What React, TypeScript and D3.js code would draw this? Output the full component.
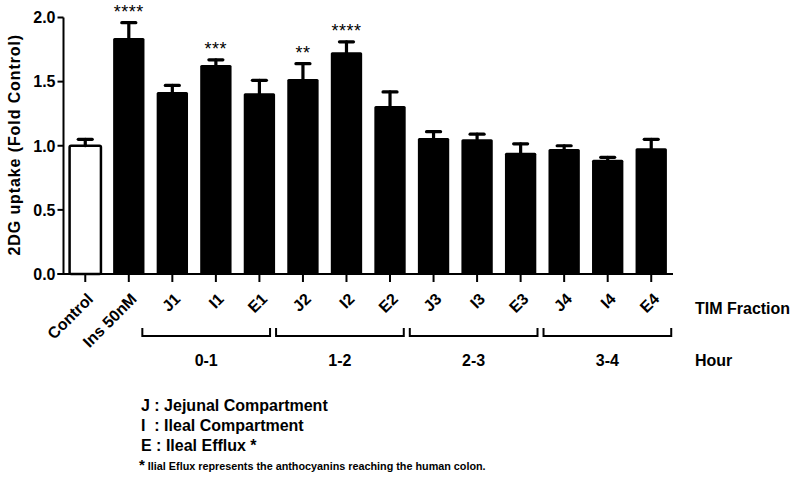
import React from 'react';
import * as d3 from 'd3';

const width = 795;
const height = 478;
const margin = { top: 17.5, left: 63.5, right: 122, bottom: 204 };

const categories = ['Control', 'Ins 50nM', 'J1', 'I1', 'E1', 'J2', 'I2', 'E2', 'J3', 'I3', 'E3', 'J4', 'I4', 'E4'];
const means = [1.0, 1.84, 1.42, 1.63, 1.41, 1.52, 1.73, 1.31, 1.06, 1.05, 0.945, 0.975, 0.89, 0.98];
const errors = [0.05, 0.12, 0.05, 0.04, 0.1, 0.12, 0.08, 0.11, 0.05, 0.04, 0.07, 0.025, 0.02, 0.07];
const stars = ['', '****', '', '***', '', '**', '****', '', '', '', '', '', '', ''];
const yTicks = [0, 0.5, 1.0, 1.5, 2.0];
const hours = ['0-1', '1-2', '2-3', '3-4'];
const legendLines = ['J : Jejunal Compartment', 'I  : Ileal Compartment', 'E : Ileal Efflux *'];
const footnote = 'Ilial Eflux represents the anthocyanins reaching the human colon.';

const font = 'Liberation Sans, Arial, sans-serif';

export default function App() {
  const x = d3
    .scaleBand()
    .domain(categories)
    .range([margin.left, width - margin.right])
    .paddingInner(0.28)
    .paddingOuter(0.14);

  const y = d3
    .scaleLinear()
    .domain([0, 2])
    .range([height - margin.bottom, margin.top]);

  const bw = x.bandwidth();
  const cx = (c) => (x(c) as number) + bw / 2;
  const y0 = y(0);

  // hour brackets under the TIM fractions
  const hx = d3
    .scaleBand()
    .domain(hours)
    .range([cx('J1') - 30, cx('E4') + 20])
    .paddingInner(0.045);

  const bracketY = 336;

  return (
    <svg
      width={width}
      height={height}
      style={{ position: 'absolute', left: 0, top: 0, background: '#fff' }}
      fontFamily={font}
    >
      {/* bars */}
      {categories.map((c, i) => (
        <rect
          key={c}
          x={x(c)}
          y={y(means[i])}
          width={bw}
          height={y0 - y(means[i])}
          rx={1.5}
          fill={i === 0 ? '#fff' : '#000'}
          stroke="#000"
          strokeWidth={i === 0 ? 2.5 : 0}
        />
      ))}

      {/* error bars */}
      {categories.map((c, i) => {
        const top = y(means[i] + errors[i]);
        return (
          <g key={'e' + c} stroke="#000" strokeWidth={3.2} strokeLinecap="round">
            <line x1={cx(c)} x2={cx(c)} y1={y(means[i])} y2={top} />
            <line x1={cx(c) - 7} x2={cx(c) + 7} y1={top} y2={top} />
          </g>
        );
      })}

      {/* significance */}
      {categories.map((c, i) =>
        stars[i] ? (
          <text
            key={'s' + c}
            x={cx(c)}
            y={y(means[i] + errors[i]) - 5}
            textAnchor="middle"
            fontSize={18}
            letterSpacing={0.5}
          >
            {stars[i]}
          </text>
        ) : null
      )}

      {/* y axis */}
      <line x1={margin.left} x2={margin.left} y1={y(2)} y2={y0} stroke="#000" strokeWidth={2} />
      {yTicks.map((t) => (
        <g key={'yt' + t}>
          <line x1={margin.left - 6} x2={margin.left} y1={y(t)} y2={y(t)} stroke="#000" strokeWidth={2} />
          <text
            x={margin.left - 8}
            y={y(t)}
            dy="0.36em"
            textAnchor="end"
            fontSize={16}
            fontWeight="bold"
          >
            {d3.format('.1f')(t)}
          </text>
        </g>
      ))}
      <text
        transform={`translate(20, ${(y(2) + y0) / 2 - 1}) rotate(-90)`}
        textAnchor="middle"
        fontSize={16}
        fontWeight="bold"
        letterSpacing={0.9}
      >
        2DG uptake (Fold Control)
      </text>

      {/* x axis */}
      <line x1={margin.left - 6} x2={width - margin.right} y1={y0} y2={y0} stroke="#000" strokeWidth={2} />
      {categories.map((c) => (
        <g key={'xt' + c}>
          <line x1={cx(c)} x2={cx(c)} y1={y0} y2={y0 + 8} stroke="#000" strokeWidth={2} />
          <text
            transform={`translate(${cx(c) + 9}, ${y0 + 26}) rotate(-45)`}
            textAnchor="end"
            fontSize={16}
            fontWeight="bold"
          >
            {c}
          </text>
        </g>
      ))}
      <text x={695} y={314} fontSize={16} fontWeight="bold">
        TIM Fraction
      </text>

      {/* hour brackets */}
      {hours.map((h) => {
        const x0 = hx(h) as number;
        const x1 = x0 + hx.bandwidth();
        return (
          <g key={'h' + h}>
            <path
              d={`M${x0},${bracketY - 8}V${bracketY}H${x1}V${bracketY - 8}`}
              fill="none"
              stroke="#000"
              strokeWidth={2}
            />
            <text x={(x0 + x1) / 2} y={366} textAnchor="middle" fontSize={16} fontWeight="bold">
              {h}
            </text>
          </g>
        );
      })}
      <text x={695} y={366} fontSize={16} fontWeight="bold">
        Hour
      </text>

      {/* legend */}
      {legendLines.map((l, i) => (
        <text key={'l' + i} x={141} y={411 + i * 20.2} fontSize={16} fontWeight="bold" style={{ whiteSpace: 'pre' }}>
          {l}
        </text>
      ))}
      <text x={139} y={469.5} fontSize={10.8} fontWeight="bold">
        <tspan fontSize={15}>*</tspan>
        <tspan dx={3}>{footnote}</tspan>
      </text>
    </svg>
  );
}
